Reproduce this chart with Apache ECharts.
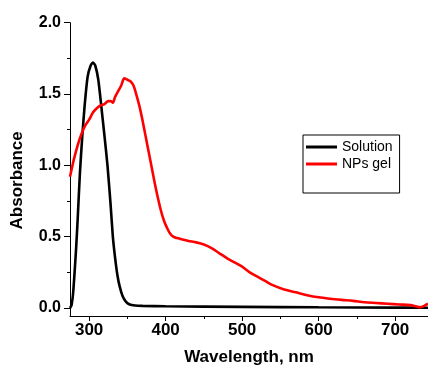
<!DOCTYPE html>
<html>
<head>
<meta charset="utf-8">
<script src="https://cdn.jsdelivr.net/npm/echarts@6/dist/echarts.min.js"></script>
<style>
  html, body { margin: 0; padding: 0; background: #fff; }
  #chart { width: 428px; height: 375px; }
</style>
</head>
<body>
<div id="chart"></div>
<script>
// Solution (black)
const solWl = [275, 277, 279, 281, 283, 285, 288, 291, 294, 298, 302, 305, 308, 312, 316, 320, 324, 328, 331, 334, 337, 340, 344, 348, 353, 360, 370, 400, 500, 600, 700, 743];
const solAbs = [0.0, 0.02, 0.1, 0.25, 0.42, 0.62, 0.95, 1.2, 1.41, 1.62, 1.70, 1.72, 1.70, 1.60, 1.41, 1.21, 1.0, 0.73, 0.5, 0.35, 0.23, 0.15, 0.08, 0.045, 0.025, 0.018, 0.015, 0.012, 0.008, 0.005, 0.003, 0.002];

// NPs gel (red)
const gelWl = [275, 280, 285, 290, 295, 300, 305, 310, 315, 320, 325, 328, 331, 334, 338, 342, 346, 350, 354, 358, 362, 366, 370, 374, 378, 382, 386, 390, 394, 398, 402, 406, 410, 415, 422, 430, 440, 450, 460, 470, 480, 490, 500, 510, 520, 530, 540, 555, 570, 585, 600, 615, 630, 645, 660, 675, 690, 705, 720, 728, 733, 738, 743];
const gelAbs = [0.92, 1.04, 1.14, 1.22, 1.28, 1.32, 1.37, 1.40, 1.42, 1.43, 1.45, 1.45, 1.44, 1.48, 1.52, 1.56, 1.61, 1.60, 1.59, 1.56, 1.49, 1.41, 1.31, 1.20, 1.09, 0.98, 0.87, 0.77, 0.68, 0.61, 0.56, 0.52, 0.50, 0.49, 0.48, 0.47, 0.46, 0.445, 0.42, 0.385, 0.35, 0.32, 0.29, 0.25, 0.22, 0.19, 0.16, 0.13, 0.11, 0.09, 0.075, 0.065, 0.057, 0.05, 0.04, 0.035, 0.03, 0.025, 0.02, 0.01, 0.005, 0.015, 0.03];

const xMajor = [300, 400, 500, 600, 700];
const xMinor = [350, 450, 550, 650];
const yMajor = [0, 0.5, 1.0, 1.5, 2.0];
const yMinor = [0.25, 0.75, 1.25, 1.75];

const font = "'Liberation Sans', Arial, sans-serif";
const pairs = (xs, ys) => xs.map((x, i) => [x, ys[i]]);

const chart = echarts.init(document.getElementById('chart'));

const xBase = {
  type: 'value', min: 275, max: 743,
  axisLine: { show: true, onZero: false, lineStyle: { color: '#000', width: 1 } },
  splitLine: { show: false }
};
const yBase = {
  type: 'value', min: -0.056, max: 2.0,
  axisLine: { show: true, onZero: false, lineStyle: { color: '#000', width: 1 } },
  splitLine: { show: false }
};

const option = {
  animation: false,
  grid: { left: 70, right: 0, top: 22.7, bottom: 59 },
  xAxis: [
    Object.assign({}, xBase, {
      name: 'Wavelength, nm',
      nameLocation: 'middle',
      nameGap: 33,
      nameTextStyle: { fontFamily: font, fontWeight: 'bold', fontSize: 17, color: '#000' },
      axisTick: { show: true, length: 5, customValues: xMajor, lineStyle: { color: '#000' } },
      axisLabel: { customValues: xMajor, margin: 6, fontFamily: font, fontWeight: 'bold', fontSize: 17, color: '#000' }
    }),
    Object.assign({}, xBase, {
      position: 'bottom',
      axisLine: { show: false, onZero: false },
      axisTick: { show: true, length: 3, customValues: xMinor, lineStyle: { color: '#000' } },
      axisLabel: { show: false }
    })
  ],
  yAxis: [
    Object.assign({}, yBase, {
      name: 'Absorbance',
      nameLocation: 'middle',
      nameGap: 44,
      nameTextStyle: { fontFamily: font, fontWeight: 'bold', fontSize: 17, color: '#000', padding: [0, 22, 0, 0] },
      axisTick: { show: true, length: 6, customValues: yMajor, lineStyle: { color: '#000' } },
      axisLabel: {
        customValues: yMajor, margin: 9, fontFamily: font, fontWeight: 'bold', fontSize: 16, color: '#000',
        formatter: v => v.toFixed(1)
      }
    }),
    Object.assign({}, yBase, {
      position: 'left',
      axisLine: { show: false, onZero: false },
      axisTick: { show: true, length: 3, customValues: yMinor, lineStyle: { color: '#000' } },
      axisLabel: { show: false }
    })
  ],
  legend: {
    left: 303, top: 135,
    orient: 'vertical',
    icon: 'rect',
    itemWidth: 31, itemHeight: 3, itemGap: 3,
    padding: [5, 7, 22, 3],
    borderColor: '#000', borderWidth: 1,
    backgroundColor: '#fff',
    textStyle: { fontFamily: font, fontSize: 14, color: '#000' },
    data: ['Solution', 'NPs gel']
  },
  series: [
    {
      name: 'Solution', type: 'line', symbol: 'none', smooth: 0.2, clip: false,
      lineStyle: { color: '#000', width: 2.6 }, itemStyle: { color: '#000' },
      data: pairs(solWl, solAbs)
    },
    {
      name: 'NPs gel', type: 'line', symbol: 'none', smooth: 0.3, clip: false,
      lineStyle: { color: '#ff0000', width: 2.6 }, itemStyle: { color: '#ff0000' },
      data: pairs(gelWl, gelAbs)
    }
  ]
};

chart.setOption(option);
</script>
</body>
</html>
